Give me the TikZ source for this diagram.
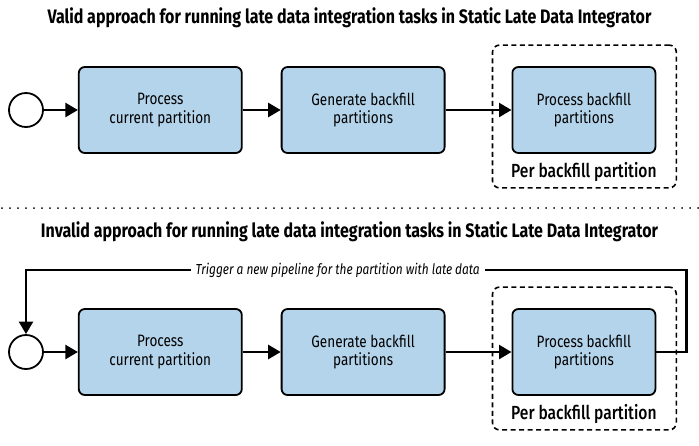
\documentclass[tikz,border=0pt]{standalone}
\usepackage{fontspec}
\setmainfont{Fira Sans}[FakeStretch=0.82]
\newfontfamily\medfont{Fira Sans Medium}[FakeStretch=0.82]
\usetikzlibrary{arrows.meta, positioning, calc, fit}
\definecolor{boxblue}{HTML}{B4D4EB}

\begin{document}
\begin{tikzpicture}[
  x=1pt, y=1pt,
  node distance=38pt,
  task/.style={draw, line width=1.8pt, rounded corners=6pt, fill=boxblue, align=center, minimum width=163pt, minimum height=86pt, font=\fontsize{16.5}{18.5}\selectfont},
  startev/.style={draw, circle, line width=1.8pt, minimum size=34pt, inner sep=0pt},
  arrow/.style={-{Triangle[length=12.5pt, width=14pt]}, line width=2.4pt},
  group/.style={draw, dash pattern=on 5pt off 3.5pt, line width=1.6pt, rounded corners=7pt, inner sep=0pt},
  title/.style={font=\fontsize{19.5}{22}\selectfont\bfseries},
  grouplabel/.style={font=\fontsize{19}{22}\selectfont\medfont, inner sep=1pt},
  trig/.style={font=\fontsize{14.5}{17}\selectfont\itshape, fill=white, inner xsep=5pt, inner ysep=1pt}
]
\useasboundingbox (0,0) rectangle (699,-445);

% valid approach
\node[title] (title1) at (349.5,-18) {Valid approach for running late data integration tasks in Static Late Data Integrator};
\node[startev] (start1) at (26,-110) {};
\node[task, right=34pt of start1] (curpart1) {Process\\current partition};
\node[task, right=38pt of curpart1] (genfill1) {Generate backfill\\partitions};
\node[task, minimum width=143pt, right=66pt of genfill1] (procfill1) {Process backfill\\partitions};
\node[grouplabel, below=7pt of procfill1] (perfill1) {Per backfill partition};
\node[group, fit={($(procfill1.north west)+(-19pt,21pt)$) ($(procfill1.south east)+(20pt,-34pt)$)}] (loop1) {};

\draw[arrow] (start1) -- (curpart1);
\draw[arrow] (curpart1) -- (genfill1);
\draw[arrow] (genfill1) -- (procfill1);

% separator
\draw[line width=2pt, line cap=round, dash pattern=on 0pt off 8pt] (2,-208) -- (699,-208);

% invalid approach
\node[title] (title2) at (349.5,-232) {Invalid approach for running late data integration tasks in Static Late Data Integrator};
\node[startev] (start2) at (26,-352) {};
\node[task, right=34pt of start2] (curpart2) {Process\\current partition};
\node[task, right=38pt of curpart2] (genfill2) {Generate backfill\\partitions};
\node[task, minimum width=143pt, right=66pt of genfill2] (procfill2) {Process backfill\\partitions};
\node[grouplabel, below=7pt of procfill2] (perfill2) {Per backfill partition};
\node[group, fit={($(procfill2.north west)+(-19pt,21pt)$) ($(procfill2.south east)+(20pt,-34pt)$)}] (loop2) {};

\draw[arrow] (start2) -- (curpart2);
\draw[arrow] (curpart2) -- (genfill2);
\draw[arrow] (genfill2) -- (procfill2);
\draw[arrow] (procfill2.east) -- ++(30,0) |- node[trig, pos=0.764]{Trigger a new pipeline for the partition with late data} ($(start2)+(0,82)$) -- (start2);
\end{tikzpicture}
\end{document}
